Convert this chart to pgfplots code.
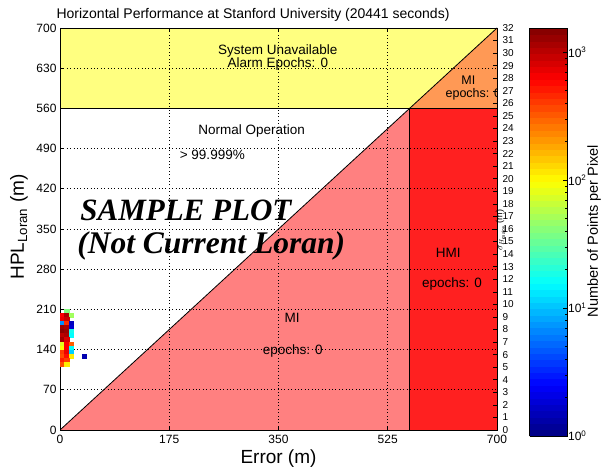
\documentclass[border=0pt]{standalone}
\usepackage{pgfplots}
\pgfplotsset{compat=1.18}
\usepackage{pgfplotstable}
\usepackage{fontspec}
\setmainfont{Liberation Sans}
\newfontfamily\timesfont{Liberation Serif}
\definecolor{yel}{RGB}{255,255,128}
\definecolor{org}{RGB}{255,153,85}
\definecolor{pnk}{RGB}{255,128,128}
\definecolor{hmi}{RGB}{255,32,32}

\pgfplotstableread{
x y v
10.5 206.5 1.6
3.5 199.5 2.8
10.5 199.5 3.05
17.5 199.5 1.7
3.5 192.5 2.85
10.5 192.5 2.95
3.5 185.5 0.85
10.5 185.5 2.65
17.5 185.5 0.2
3.5 178.5 3.1
10.5 178.5 3.05
17.5 178.5 0.25
3.5 171.5 3.15
10.5 171.5 3.1
17.5 171.5 1.25
3.5 164.5 3.0
10.5 164.5 3.05
17.5 164.5 1.2
3.5 157.5 3.1
10.5 157.5 2.9
3.5 150.5 1.9
10.5 150.5 2.8
17.5 150.5 2.5
3.5 143.5 2.0
10.5 143.5 2.8
17.5 143.5 1.2
3.5 136.5 2.6
10.5 136.5 2.85
17.5 136.5 1.05
3.5 129.5 2.55
10.5 129.5 2.75
17.5 129.5 2.05
38.5 129.5 0.15
3.5 122.5 2.7
10.5 122.5 2.6
3.5 115.5 2.55
10.5 115.5 2.05
}\cells

\begin{document}
\begin{tikzpicture}[x=1pt,y=1pt]
\path[use as bounding box] (0,0) rectangle (601,470);
\begin{axis}[
  at={(60pt,40pt)}, anchor=south west, scale only axis,
  width=437pt, height=402pt,
  xmin=0, xmax=700, ymin=0, ymax=700,
  xtick={0,175,350,525,700}, ytick={0,70,...,700},
  /pgf/number format/assume math mode=true,
  grid=major,
  grid style={black, line width=0.6pt, dash pattern=on 0.8pt off 2.6pt},
  axis on top,
  axis line style={black, line width=0.8pt},
  tick align=inside, major tick length=4pt,
  tick style={black, line width=0.6pt},
  ytick pos=left, xtick pos=both,
  ticklabel style={font=\fontsize{12}{14}\selectfont},
  xticklabel style={yshift=-2pt},
  xlabel={Error (m)},
  xlabel style={font=\fontsize{19}{22}\selectfont, at={(axis description cs:0.5,-0.072)}, anchor=center},
  ylabel={HPL\textsubscript{Loran} (m)},
  ylabel style={font=\fontsize{19}{22}\selectfont, at={(axis description cs:-0.094,0.505)}, anchor=center},
  colormap/jet,
  point meta min=0, point meta max=3.19,
  colorbar sampled,
  colorbar style={
    samples=65,
    at={(parent axis.south east)}, anchor=south west, xshift=24pt, yshift=-6pt,
    width=38pt, height=408pt,
    ytick={0,1,2,3},
    yticklabels={10\textsuperscript{0},10\textsuperscript{1},10\textsuperscript{2},10\textsuperscript{3}},
    minor ytick={0.301,0.477,0.602,0.699,0.778,0.845,0.903,0.954,
                 1.301,1.477,1.602,1.699,1.778,1.845,1.903,1.954,
                 2.301,2.477,2.602,2.699,2.778,2.845,2.903,2.954},
    tick align=inside, major tick length=5pt, minor tick length=3pt,
    tick style={black, line width=0.6pt},
    ytick pos=right, yticklabel pos=right,
    yticklabel style={font=\fontsize{12}{14}\selectfont, xshift=-3pt},
    axis line style={black, line width=0.8pt},
  },
]
\addplot[fill=yel, draw=none] coordinates {(0,560) (700,560) (700,700) (0,700)} -- cycle;
\addplot[fill=org, draw=none] coordinates {(560,560) (700,560) (700,700)} -- cycle;
\addplot[fill=pnk, draw=none] coordinates {(0,0) (560,560) (560,0)} -- cycle;
\addplot[fill=hmi, draw=none] coordinates {(560,0) (700,0) (700,560) (560,560)} -- cycle;
\addplot[black, line width=0.8pt] coordinates {(0,0) (700,700)};
\addplot[black, line width=0.8pt] coordinates {(0,560) (700,560)};
\addplot[black, line width=0.8pt] coordinates {(560,0) (560,560)};
\addplot[scatter, only marks, mark=square*, mark size=2.15pt,
  mark options={line width=0.1pt, yscale=0.93},
  scatter/use mapped color={draw=mapped color, fill=mapped color},
  point meta=explicit] table[x=x, y=y, meta=v] {\cells};

\node[font=\fontsize{13.5}{15}\selectfont] at (axis cs:349,660) {System Unavailable};
\node[font=\fontsize{13.5}{15}\selectfont] at (axis cs:349,638) {Alarm Epochs: 0};
\node[font=\fontsize{13.5}{15}\selectfont] at (axis cs:307,521) {Normal Operation};
\node[font=\fontsize{13.5}{15}\selectfont] at (axis cs:244,479) {> 99.999\%};
\node[font=\fontsize{13.5}{15}\selectfont] at (axis cs:372,195) {MI};
\node[font=\fontsize{13.5}{15}\selectfont] at (axis cs:373,137) {epochs: 0};
\node[font=\fontsize{13.5}{15}\selectfont] at (axis cs:622,308) {HMI};
\node[font=\fontsize{13.5}{15}\selectfont] at (axis cs:628,255) {epochs: 0};
\node[font=\fontsize{12.5}{14}\selectfont, inner sep=1pt] at (axis cs:654,609) {MI};
\node[font=\fontsize{12.5}{14}\selectfont, inner sep=1pt] at (axis cs:662,585) {epochs: 0};
\node[font=\timesfont\bfseries\itshape\fontsize{31}{36}\selectfont, anchor=west] at (axis cs:27,383) {SAMPLE PLOT};
\node[font=\timesfont\bfseries\itshape\fontsize{31.5}{36}\selectfont, anchor=west] at (axis cs:22,321) {(Not Current Loran)};
\end{axis}
\begin{axis}[
  at={(60pt,40pt)}, anchor=south west, scale only axis,
  width=437pt, height=402pt,
  xmin=0, xmax=1, ymin=0, ymax=32,
  axis x line=none, axis y line*=right,
  ytick={0,1,...,32},
  /pgf/number format/assume math mode=true,
  tick align=inside, major tick length=4pt,
  tick style={black, line width=0.6pt},
  axis line style={black, line width=0.8pt},
  yticklabel style={font=\fontsize{10}{12}\selectfont, xshift=2pt},
]
\addplot[draw=none] coordinates {(0,0) (1,32)};
\end{axis}
\node[font=\fontsize{14}{16}\selectfont, anchor=west] at (53,455) {Horizontal Performance at Stanford University (20441 seconds)};
\node[font=\fontsize{9}{11}\selectfont, rotate=90] at (501,240) {$\sigma_{H_{\mathrm{major}}}$ (m)};
\node[font=\fontsize{14.5}{17}\selectfont, rotate=90] at (594,239) {Number of Points per Pixel};
\end{tikzpicture}
\end{document}
